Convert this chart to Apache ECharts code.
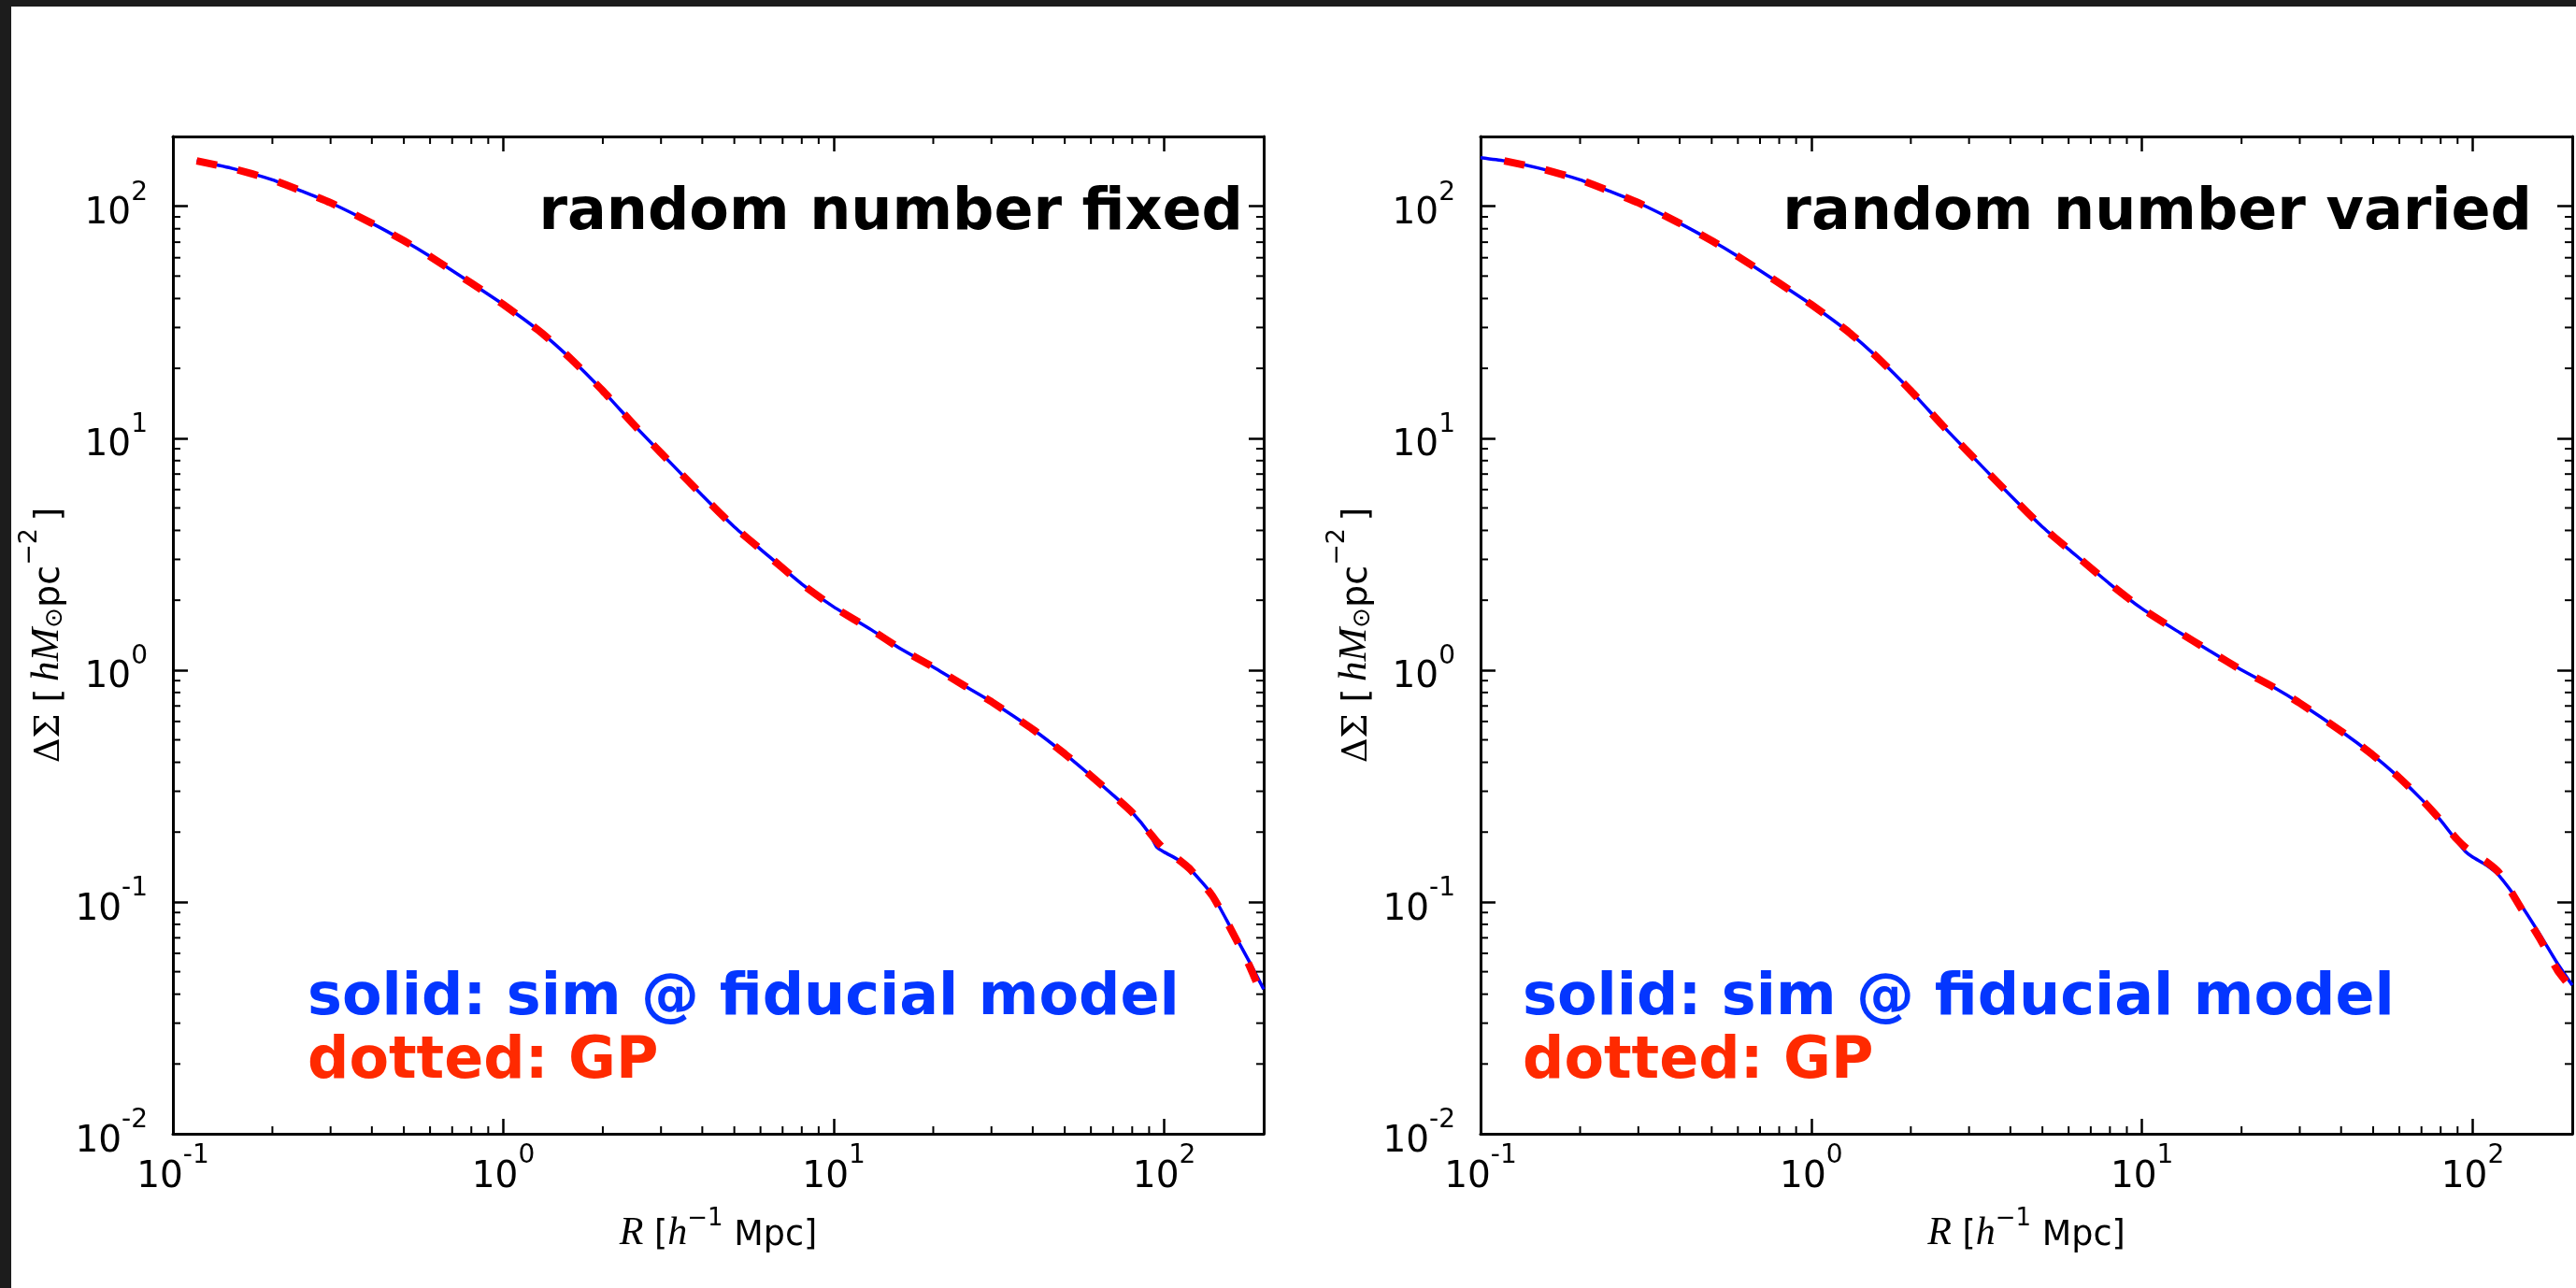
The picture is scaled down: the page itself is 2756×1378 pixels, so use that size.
<!DOCTYPE html>
<html>
<head>
<meta charset="utf-8">
<style>
  html, body { margin: 0; padding: 0; background: #ffffff; }
  #chart { width: 2756px; height: 1378px; }
</style>
<script src="https://cdn.jsdelivr.net/npm/echarts@6/dist/echarts.min.js"></script>
</head>
<body>
<div id="chart"></div>
<script>
// Projected radius R [h^-1 Mpc], shared by both panels
const radius = [0.1, 0.118, 0.15, 0.2, 0.25, 0.3, 0.4, 0.5, 0.6, 0.8, 1.0, 1.3, 1.6, 2.0, 2.5, 3.0, 4.0, 5.0, 6.0, 8.0,
                10, 13, 16, 20, 25, 30, 40, 50, 60, 70, 80, 90, 95, 100, 110, 120, 140, 160, 180, 200];

// Delta Sigma [h M_sun pc^-2], panel 1: random number fixed
const simFixed = [null, 157, 146, 130, 115, 103.5, 84.5, 71, 60.8, 46.6, 37.7, 28.6, 22.0, 16.0, 11.3, 8.63, 5.66, 4.14, 3.32, 2.35,
                  1.87, 1.49, 1.23, 1.03, 0.851, 0.73, 0.555, 0.435, 0.35, 0.289, 0.243, 0.198, 0.172, 0.164, 0.152, 0.138, 0.107, 0.076, 0.056, 0.042];
const gpFixed  = [null, 157, 146, 130, 115, 103.5, 84.5, 71, 60.8, 46.6, 37.7, 28.6, 22.0, 16.0, 11.3, 8.63, 5.66, 4.14, 3.32, 2.35,
                  1.87, 1.49, 1.23, 1.03, 0.851, 0.73, 0.555, 0.435, 0.35, 0.289, 0.243, 0.200, 0.182, 0.169, 0.153, 0.138, 0.106, 0.075, 0.054, 0.038];

// Panel 2: random number varied
const simVaried = [162, 157, 146, 130, 115, 103.5, 84.5, 71, 60.8, 46.6, 37.7, 28.6, 22.0, 16.0, 11.3, 8.63, 5.66, 4.14, 3.32, 2.35,
                   1.84, 1.45, 1.21, 1.0, 0.843, 0.72, 0.545, 0.429, 0.343, 0.277, 0.225, 0.181, 0.165, 0.156, 0.144, 0.130, 0.097, 0.072, 0.0545, 0.0437];
const gpVaried  = [null, 157, 146, 130, 115, 103.5, 84.5, 71, 60.8, 46.6, 37.7, 28.6, 22.0, 16.0, 11.3, 8.63, 5.66, 4.14, 3.32, 2.35,
                   1.84, 1.45, 1.21, 1.0, 0.843, 0.72, 0.545, 0.429, 0.343, 0.277, 0.225, 0.185, 0.172, 0.163, 0.149, 0.134, 0.094, 0.069, 0.051, 0.042];

const panelTitles = ['random number fixed', 'random number varied'];
const legendLines = ['solid: sim @ fiducial model', 'dotted: GP'];

// Axis ranges and log minor tick positions
const xRange = [0.1, 200];
const yRange = [0.01, 200];
const xMinorTicks = [0.2, 0.3, 0.4, 0.5, 0.6, 0.7, 0.8, 0.9, 2, 3, 4, 5, 6, 7, 8, 9, 20, 30, 40, 50, 60, 70, 80, 90];
const yMinorTicks = [0.02, 0.03, 0.04, 0.05, 0.06, 0.07, 0.08, 0.09, 0.2, 0.3, 0.4, 0.5, 0.6, 0.7, 0.8, 0.9,
                     2, 3, 4, 5, 6, 7, 8, 9, 20, 30, 40, 50, 60, 70, 80, 90];

const toPairs = (xs, ys) => xs.map((x, i) => [x, ys[i]]).filter(p => p[1] != null);

// Layout (pixels)
const GRIDS = [
  { left: 185, top: 146, width: 1167, height: 1067 },
  { left: 1584, top: 146, width: 1168, height: 1067 }
];

const SANS = '"DejaVu Sans", sans-serif';
const SERIF_IT = '"Liberation Serif", "DejaVu Serif", serif';

const tickRich = {
  b: { fontFamily: SANS, fontSize: 39, lineHeight: 56, color: '#000', verticalAlign: 'bottom' },
  s: { fontFamily: SANS, fontSize: 28, lineHeight: 28, color: '#000', verticalAlign: 'top' }
};

function powerLabel(value) {
  const e = Math.round(Math.log10(value));
  if (Math.abs(value / Math.pow(10, e) - 1) > 1e-6) return '';
  return '{b|10}{s|' + (e < 0 ? '-' + (-e) : e) + '}';
}

const xNameRich = {
  i: { fontFamily: SERIF_IT, fontStyle: 'italic', fontSize: 42, lineHeight: 50, color: '#000', verticalAlign: 'bottom' },
  n: { fontFamily: SANS, fontSize: 36.5, lineHeight: 50, color: '#000', verticalAlign: 'bottom' },
  sup: { fontFamily: SANS, fontSize: 26, lineHeight: 32, color: '#000', verticalAlign: 'top' }
};
const yNameRich = {
  i: { fontFamily: SERIF_IT, fontStyle: 'italic', fontSize: 43, lineHeight: 54, color: '#000', verticalAlign: 'bottom' },
  n: { fontFamily: SANS, fontSize: 38, lineHeight: 54, color: '#000', verticalAlign: 'bottom' },
  g: { fontFamily: '"DejaVu Serif", serif', fontSize: 37, lineHeight: 54, color: '#000', verticalAlign: 'bottom' },
  sup: { fontFamily: SANS, fontSize: 27, lineHeight: 32, color: '#000', verticalAlign: 'top' },
  sub: { fontFamily: SANS, fontSize: 26, lineHeight: 26, color: '#000', verticalAlign: 'bottom' }
};
const xName = '{i|R}{n| [}{i|h}{sup|\u22121}{n| Mpc]}';
const yName = '{g|\u0394\u03a3}{n| [\u2009}{i|hM}{sub|\u2299}{n|pc}{sup|\u22122}{n|\u2009]}';

function axisCommon(extra) {
  return Object.assign({
    type: 'log',
    logBase: 10,
    axisLine: { show: true, onZero: false, lineStyle: { color: '#000', width: 3 } },
    axisTick: { show: true, inside: true, length: 16, lineStyle: { color: '#000', width: 2.5 } },
    minorTick: { show: false },
    splitLine: { show: false },
    minorSplitLine: { show: false }
  }, extra);
}

const xAxes = [], yAxes = [];
GRIDS.forEach((g, gi) => {
  xAxes.push(axisCommon({
    gridIndex: gi, position: 'bottom', min: xRange[0], max: xRange[1],
    axisLabel: { show: true, margin: 10, formatter: powerLabel, rich: tickRich, showMinLabel: true, showMaxLabel: true, hideOverlap: false },
    name: xName, nameLocation: 'middle', nameGap: 78, nameTextStyle: { rich: xNameRich }
  }));
  xAxes.push(axisCommon({
    gridIndex: gi, position: 'top', min: xRange[0], max: xRange[1],
    axisLabel: { show: false }
  }));
  yAxes.push(axisCommon({
    gridIndex: gi, position: 'left', min: yRange[0], max: yRange[1],
    axisLabel: { show: true, margin: 27, formatter: powerLabel, rich: tickRich, showMinLabel: true, showMaxLabel: true, hideOverlap: false },
    name: yName, nameLocation: 'middle', nameRotate: 90, nameGap: 113, nameTextStyle: { rich: yNameRich }
  }));
  yAxes.push(axisCommon({
    gridIndex: gi, position: 'right', min: yRange[0], max: yRange[1],
    axisLabel: { show: false }
  }));
});

// Minor log ticks on all four sides of a panel
function minorTicks(axisIdx, items, alongX) {
  return {
    type: 'custom',
    xAxisIndex: axisIdx, yAxisIndex: axisIdx,
    clip: false, silent: true, z: 5,
    encode: { x: 0, y: 1 },
    data: items.map(v => alongX ? [v, 1] : [1, v]),
    renderItem(params, api) {
      const cs = params.coordSys;
      const p = api.coord([api.value(0), api.value(1)]);
      const style = { stroke: '#000', lineWidth: 2 };
      const L = 8;
      if (alongX) {
        const b = cs.y + cs.height;
        return { type: 'group', children: [
          { type: 'line', shape: { x1: p[0], y1: b, x2: p[0], y2: b - L }, style },
          { type: 'line', shape: { x1: p[0], y1: cs.y, x2: p[0], y2: cs.y + L }, style }
        ] };
      }
      const r = cs.x + cs.width;
      return { type: 'group', children: [
        { type: 'line', shape: { x1: cs.x, y1: p[1], x2: cs.x + L, y2: p[1] }, style },
        { type: 'line', shape: { x1: r, y1: p[1], x2: r - L, y2: p[1] }, style }
      ] };
    }
  };
}

function simSeries(axisIdx, ys) {
  return {
    type: 'line', xAxisIndex: axisIdx, yAxisIndex: axisIdx,
    data: toPairs(radius, ys), showSymbol: false, symbol: 'none',
    smooth: 0.2,
    lineStyle: { color: '#0000ff', width: 3.5 }, z: 2
  };
}
function gpSeries(axisIdx, ys) {
  return {
    type: 'line', xAxisIndex: axisIdx, yAxisIndex: axisIdx,
    data: toPairs(radius, ys), showSymbol: false, symbol: 'none',
    smooth: 0.2,
    lineStyle: { color: '#ff0000', width: 8, type: [22, 23], cap: 'butt' }, z: 3
  };
}

const series = [
  simSeries(0, simFixed), gpSeries(0, gpFixed),
  simSeries(2, simVaried), gpSeries(2, gpVaried),
  minorTicks(0, xMinorTicks, true), minorTicks(0, yMinorTicks, false),
  minorTicks(2, xMinorTicks, true), minorTicks(2, yMinorTicks, false)
];

const TITLE_FONT = 'bold 62px "DejaVu Sans"';
const graphic = [
  { type: 'rect', shape: { x: 0, y: 0, width: 12, height: 1378 }, style: { fill: '#1c1c1c' }, z: 100 },
  { type: 'rect', shape: { x: 0, y: 0, width: 2756, height: 7 }, style: { fill: '#1c1c1c' }, z: 100 },
  { type: 'text', x: 1330, y: 229, style: { text: panelTitles[0], font: TITLE_FONT, fill: '#000', align: 'right', verticalAlign: 'middle' }, z: 50 },
  { type: 'text', x: 2709, y: 229, style: { text: panelTitles[1], font: TITLE_FONT, fill: '#000', align: 'right', verticalAlign: 'middle' }, z: 50 },
  { type: 'text', x: 329, y: 1069, style: { text: legendLines[0], font: TITLE_FONT, fill: '#0436ff', align: 'left', verticalAlign: 'middle' }, z: 50 },
  { type: 'text', x: 329, y: 1137, style: { text: legendLines[1], font: TITLE_FONT, fill: '#ff2a00', align: 'left', verticalAlign: 'middle' }, z: 50 },
  { type: 'text', x: 1629, y: 1069, style: { text: legendLines[0], font: TITLE_FONT, fill: '#0436ff', align: 'left', verticalAlign: 'middle' }, z: 50 },
  { type: 'text', x: 1629, y: 1137, style: { text: legendLines[1], font: TITLE_FONT, fill: '#ff2a00', align: 'left', verticalAlign: 'middle' }, z: 50 }
];

const chart = echarts.init(document.getElementById('chart'), null, { renderer: 'canvas', width: 2756, height: 1378 });
chart.setOption({
  animation: false,
  backgroundColor: '#ffffff',
  grid: GRIDS.map(g => Object.assign({ containLabel: false, outerBoundsMode: 'none' }, g)),
  xAxis: xAxes,
  yAxis: yAxes,
  series: series,
  graphic: graphic
});
</script>
</body>
</html>
